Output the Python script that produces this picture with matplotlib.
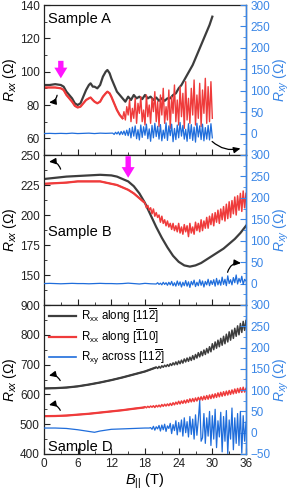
import numpy as np
import matplotlib
matplotlib.use("Agg")
import matplotlib.pyplot as plt
from matplotlib.ticker import MultipleLocator

plt.rcParams['font.family'] = ['Liberation Sans', 'DejaVu Sans']
plt.rcParams['mathtext.fontset'] = 'custom'
plt.rcParams['mathtext.rm'] = 'Liberation Sans'
plt.rcParams['mathtext.it'] = 'Liberation Sans:italic'
plt.rcParams['mathtext.bf'] = 'Liberation Sans:bold'

# ---------------- Sample A ----------------
a_blk_B = [0, 1, 2, 3, 3.5, 4, 5, 5.5, 6, 6.5, 7, 7.5, 8, 8.3, 8.7, 9, 9.5, 10, 10.5, 11, 11.3, 11.7, 12, 12.5, 13, 13.5,
           14, 14.5, 15, 15.5, 16, 16.5, 17, 17.5, 18, 18.5, 19, 19.5, 20, 20.5, 21, 21.5, 22, 22.5, 23, 23.5, 24,
           24.5, 25, 25.5, 26, 26.5, 27, 27.5, 28, 28.5, 29, 29.5, 30]
a_blk = [92, 92, 92.5, 92, 91, 88, 84, 81, 80, 81, 85, 89, 92, 93, 91, 91, 90, 92, 97, 100, 101, 99, 96, 92, 88, 86,
         84, 82, 85, 83, 86, 84, 85, 83.5, 86, 84, 85, 83, 84.5, 82.5, 84, 82.5, 84, 84, 86, 87, 90,
         92, 95, 98, 101, 104, 108, 112, 116, 120, 124, 128, 133]

a_red_B = [0, 1, 2, 3, 3.5, 4, 5, 5.5, 6, 6.5, 7, 7.5, 8, 8.3, 8.7, 9, 9.5, 10, 10.5, 11, 11.3, 11.7, 12, 12.5, 13, 13.5, 14]
a_red = [90.5, 90.5, 90.5, 90, 89, 86, 82, 79.5, 78.5, 79, 81, 83, 84, 84.5, 83, 82, 81, 82, 85, 87, 88, 87, 85, 81, 77, 74, 72]
a_red_noisy = [76, 71, 79, 74, 83, 70, 78, 72, 84, 69, 81, 75, 85, 70, 77, 68, 86, 73, 80, 69, 84, 76, 88, 70, 82,
               67, 86, 74, 90, 69, 79, 71, 89, 66, 85, 75, 92, 70, 83, 68, 91, 73, 87, 66, 94, 71, 84, 69, 90, 74,
               95, 68, 86, 72, 93, 67, 89, 75, 96, 69, 91, 70, 94, 72]

a_blu_B = [0, 1, 2, 3, 4, 5, 6, 7, 8, 9, 10, 11, 12]
a_blu = [0, 0.5, 0, 0.5, 0, 1, 0, 0.5, 1, 0, 1, 0.5, 1]
a_blu_noisy = [1, -2, 3, -1, 4, -3, 5, -2, 6, -4, 8, -5,
               12, -10, 15, -6, 18, -12, 9, -15, 20, -9, 16, -4, 22, -12, 11, -18, 19, -10, 24, -7,
               17, -13, 21, -17, 8, -11, 25, -16, 18, -5, 22, -19, 12, -14, 20, -10, 26, -6, 19, -13,
               10, -18, 23, -12, 21, -16, 15, -20, 24, -8, 18, -14, 22, -17, 14, -13, 19, -15, 23, -10]

# ---------------- Sample B ----------------
b_blk_B = [0, 2, 4, 6, 8, 10, 12, 13, 14, 15, 16, 17, 18, 19, 20, 21, 22, 23, 24, 25, 26, 27, 28, 29, 30, 31, 32,
           33, 34, 35, 36]
b_blk = [230, 231, 232, 232.5, 233, 233.5, 233, 232, 230, 228, 224, 218, 210, 200, 190, 181, 173, 166, 161, 158,
         157, 158, 160, 163, 166, 169, 172, 176, 180, 185, 191]

b_red_B = [0, 2, 4, 6, 8, 10, 11, 12, 13, 14, 15, 16, 17, 17.75]
b_red = [226, 226.5, 227, 228, 228, 228, 227, 226, 225, 223, 221, 218, 214, 211]
b_red_noisy = [210, 206, 208, 204, 206, 201, 205, 199, 202, 198, 200, 194, 199, 193, 196, 191, 195, 190, 193, 188,
               193, 187, 191, 186, 193, 185, 190, 184, 192, 186, 191, 182, 193, 185, 190, 184, 194, 187, 193, 186,
               196, 187, 195, 189, 198, 189, 199, 192, 201, 191, 202, 194, 204, 193, 205, 196, 207, 195, 209, 197,
               211, 198, 212, 201, 215, 200, 216, 204, 218, 203, 220, 206, 218]

b_blu_B = [0, 1, 2, 3, 4, 5, 6, 7, 8, 9, 10, 11, 12, 13, 14, 15, 16, 17, 18, 19]
b_blu = [0, 0.5, 0, -0.5, 0, 0.5, 0, 0, -0.5, 0, 0.5, 0, 0, -0.5, 0, 1, 0, -1, 0.5, -0.5]
b_blu_noisy = [-1, 2, -2, 1, -3, 3, -2, 2, -4, 3, -3, 5, -5, 2, -6, 6, -4, 4, -8, 3,
               -5, 7, -6, 4, -9, 5, -3, 8, -7, 3, -5, 9, -4, 6, -8, 5, -3, 10, -5, 7,
               -2, 9, -6, 12, -3, 8, -4, 15, -2, 10, -5, 18, 0, 9, -3, 14, 2, 20, -1, 12,
               3, 17, -2, 10, 6]

# ---------------- Sample D ----------------
c_blk_B = [0, 2, 4, 6, 8, 10, 12, 14, 16, 18, 19.75]
c_blk = [620, 621, 623, 627, 633, 640, 648, 657, 667, 677, 689]
c_blk_noisy = [692, 687, 694, 688, 696, 691, 698, 693, 700, 694,
               703, 697, 706, 699, 709, 700, 712, 703, 715, 705,
               719, 709, 722, 711, 725, 714, 730, 717, 734, 722,
               740, 726, 744, 730, 749, 734, 754, 739, 760, 743,
               770, 750, 776, 755, 782, 760, 788, 765, 795, 770,
               802, 776, 810, 782, 816, 788, 822, 795, 830, 800,
               838, 808, 845, 815, 848]

c_red_B = [0, 2, 4, 6, 8, 10, 12, 14, 16, 17.75]
c_red = [527, 527.5, 529, 532, 535, 539, 543, 547, 552, 556]
c_red_noisy = [559, 555, 560, 556, 561, 557, 562, 556, 563, 558,
               564, 558, 566, 560, 567, 561, 568, 562, 570, 563,
               572, 565, 574, 567, 577, 568, 578, 570, 580, 571,
               582, 573, 585, 575, 586, 576, 588, 578, 590, 580,
               592, 581, 594, 583, 596, 584, 598, 586, 600, 588,
               602, 590, 605, 592, 607, 594, 609, 596, 611, 598,
               613, 600, 615, 602, 618, 604, 620, 606, 622, 607,
               624, 608, 620]

c_blu_B = [0, 2, 4, 6, 8, 9, 10, 12, 14, 16, 18, 18.75]
c_blu = [11, 11, 10, 7, 3, 1, 4, 8, 9, 10, 11, 11]
c_blu_noisy = [12, 8, 15, 6, 14, 9, 17, 4, 18, 7,
               20, 3, 16, 10, 22, -2, 19, 5, 28, -5,
               24, 2, 30, -8, 35, 0, 26, -10, 38, -4,
               32, -15, 42, -6, 30, 75, -20, -12, 45, -25,
               35, -8, 50, -30, 40, -15, 55, -35, 28, -10,
               48, -45, 38, -20, 52, -50, 30, -15, 58, -40,
               35, -25, 45, -30, 50, -48, 40, -20, 25]

x_ticks = [0, 6, 12, 18, 24, 30, 36]

BLK = '#3d3d3d'
RED = '#ef3b3b'
BLU = '#1f6ddb'
AXB = '#3a86e6'
MAG = '#ff14ff'


def join(b0, y0, start, end, ynoisy):
    bx = np.concatenate([np.asarray(b0, float), np.linspace(start, end, len(ynoisy))])
    yy = np.concatenate([np.asarray(y0, float), np.asarray(ynoisy, float)])
    return bx, yy


fig = plt.figure(figsize=(2.91, 4.97), dpi=100)
L, W = 44 / 291, 202 / 291
H = 150 / 497
axA = fig.add_axes([L, 1 - 155 / 497, W, H])
axB = fig.add_axes([L, 1 - 305 / 497, W, H])
axC = fig.add_axes([L, 1 - 454 / 497, W, 149 / 497])

TS = 8.5
LS = 10


def style(ax, ylim, yticks, yminor, rticks, show_x):
    ax.set_xlim(0, 36)
    ax.set_ylim(*ylim)
    ax.set_xticks(x_ticks)
    ax.xaxis.set_minor_locator(MultipleLocator(3))
    ax.set_yticks(yticks)
    ax.yaxis.set_minor_locator(MultipleLocator(yminor))
    ax.tick_params(which='both', direction='in', labelsize=TS, colors='#222222', pad=3)
    ax.tick_params(which='major', length=4, width=0.8)
    ax.tick_params(which='minor', length=2, width=0.6)
    if not show_x:
        ax.tick_params(axis='x', labelbottom=False)
    for s in ax.spines.values():
        s.set_linewidth(0.9)
        s.set_color('#222222')
    ax.set_ylabel(r'$R_{xx}$ ($\Omega$)', fontsize=LS, labelpad=1)
    ax2 = ax.twinx()
    ax2.set_ylim(-50, 300)
    ax2.set_yticks(rticks)
    ax2.yaxis.set_minor_locator(MultipleLocator(25))
    ax2.tick_params(which='both', direction='in', labelsize=TS, colors=AXB, pad=3)
    ax2.tick_params(which='major', length=4, width=0.8)
    ax2.tick_params(which='minor', length=2, width=0.6)
    for k in ['left', 'top', 'bottom']:
        ax2.spines[k].set_visible(False)
    ax2.spines['right'].set_color(AXB)
    ax2.spines['right'].set_linewidth(1.0)
    ax2.set_ylabel(r'$R_{xy}$ ($\Omega$)', fontsize=LS, color=AXB, labelpad=1)
    return ax2


rt_no = [0, 50, 100, 150, 200, 250, 300]
axA2 = style(axA, (50, 140), [60, 80, 100, 120, 140], 10, rt_no, False)
axB2 = style(axB, (125, 250), [150, 175, 200, 225, 250], 12.5, rt_no, False)
axC2 = style(axC, (400, 900), [400, 500, 600, 700, 800, 900], 50, [-50] + rt_no, True)
axC.set_xlabel(r'$B_{||}$ (T)', fontsize=LS + 0.5, labelpad=1)

lw = 1.6
# Panel A
axA.plot(a_blk_B, a_blk, color=BLK, lw=lw)
bx, yy = join(a_red_B, a_red, 14.25, 30, a_red_noisy)
axA.plot(bx, yy, color=RED, lw=1.0)
axA.plot(a_red_B, a_red, color=RED, lw=lw)
bx, yy = join(a_blu_B, a_blu, 12.25, 30, a_blu_noisy)
axA2.plot(bx, yy, color=BLU, lw=0.9)

# Panel B
axB.plot(b_blk_B, b_blk, color=BLK, lw=lw)
bx, yy = join(b_red_B, b_red, 18, 36, b_red_noisy)
axB.plot(bx, yy, color=RED, lw=1.1)
axB.plot(b_red_B, b_red, color=RED, lw=lw)
bx, yy = join(b_blu_B, b_blu, 20, 36, b_blu_noisy)
axB2.plot(bx, yy, color=BLU, lw=0.9)

# Panel D
bx, yy = join(c_blk_B, c_blk, 20, 36, c_blk_noisy)
axC.plot(bx, yy, color=BLK, lw=1.1)
axC.plot(c_blk_B, c_blk, color=BLK, lw=lw, label=r'R$_{\mathrm{xx}}$ along [11$\overline{\mathrm{2}}$]')
bx, yy = join(c_red_B, c_red, 18, 36, c_red_noisy)
axC.plot(bx, yy, color=RED, lw=1.1)
axC.plot(c_red_B, c_red, color=RED, lw=lw, label=r'R$_{\mathrm{xx}}$ along [$\overline{\mathrm{1}}$10]')
axC.plot([], [], color=BLU, lw=1.2, label=r'R$_{\mathrm{xy}}$ across [11$\overline{\mathrm{2}}$]')
bx, yy = join(c_blu_B, c_blu, 19, 36, c_blu_noisy)
axC2.plot(bx, yy, color=BLU, lw=0.9)

leg = axC.legend(loc='upper left', frameon=False, fontsize=8.3, handlelength=2.4, handletextpad=0.4,
                 labelspacing=0.12, borderaxespad=0.0, bbox_to_anchor=(0.0, 1.02))

# Sample labels
axA.text(0.02, 0.91, 'Sample A', transform=axA.transAxes, fontsize=10.5, va='center', ha='left')
axB.text(0.02, 0.487, 'Sample B', transform=axB.transAxes, fontsize=10.5, va='center', ha='left')
axC.text(0.02, 0.05, 'Sample D', transform=axC.transAxes, fontsize=10.5, va='center', ha='left')

# curved black arrows
ap = dict(arrowstyle='-|>,head_width=0.18,head_length=0.4', color='black', lw=0.9)
axA.annotate('', xy=(0.4, 81.5), xytext=(2.4, 87.5), arrowprops=dict(**ap, connectionstyle='arc3,rad=-0.5'))
axA2.annotate('', xy=(35.5, -33), xytext=(29.6, -14), annotation_clip=False,
              arrowprops=dict(**ap, connectionstyle='arc3,rad=0.3'))
axB.annotate('', xy=(0.4, 244), xytext=(3.1, 236), arrowprops=dict(**ap, connectionstyle='arc3,rad=0.5'))
axB2.annotate('', xy=(35.6, 47), xytext=(32.6, 20), arrowprops=dict(**ap, connectionstyle='arc3,rad=-0.5'))
axC.annotate('', xy=(0.4, 660), xytext=(3.1, 638), arrowprops=dict(**ap, connectionstyle='arc3,rad=0.5'))
axC.annotate('', xy=(0.4, 562), xytext=(3.1, 538), arrowprops=dict(**ap, connectionstyle='arc3,rad=0.5'))

# magenta arrows
mp = dict(arrowstyle='simple,head_width=0.85,head_length=0.7,tail_width=0.35', color=MAG, lw=0,
          shrinkA=0, shrinkB=0, mutation_scale=11)
axA.annotate('', xy=(3.0, 96), xytext=(3.0, 106.5), arrowprops=mp)
axB.annotate('', xy=(15.0, 231), xytext=(15.0, 249), arrowprops=mp)

fig.savefig('out.png', dpi=100)
